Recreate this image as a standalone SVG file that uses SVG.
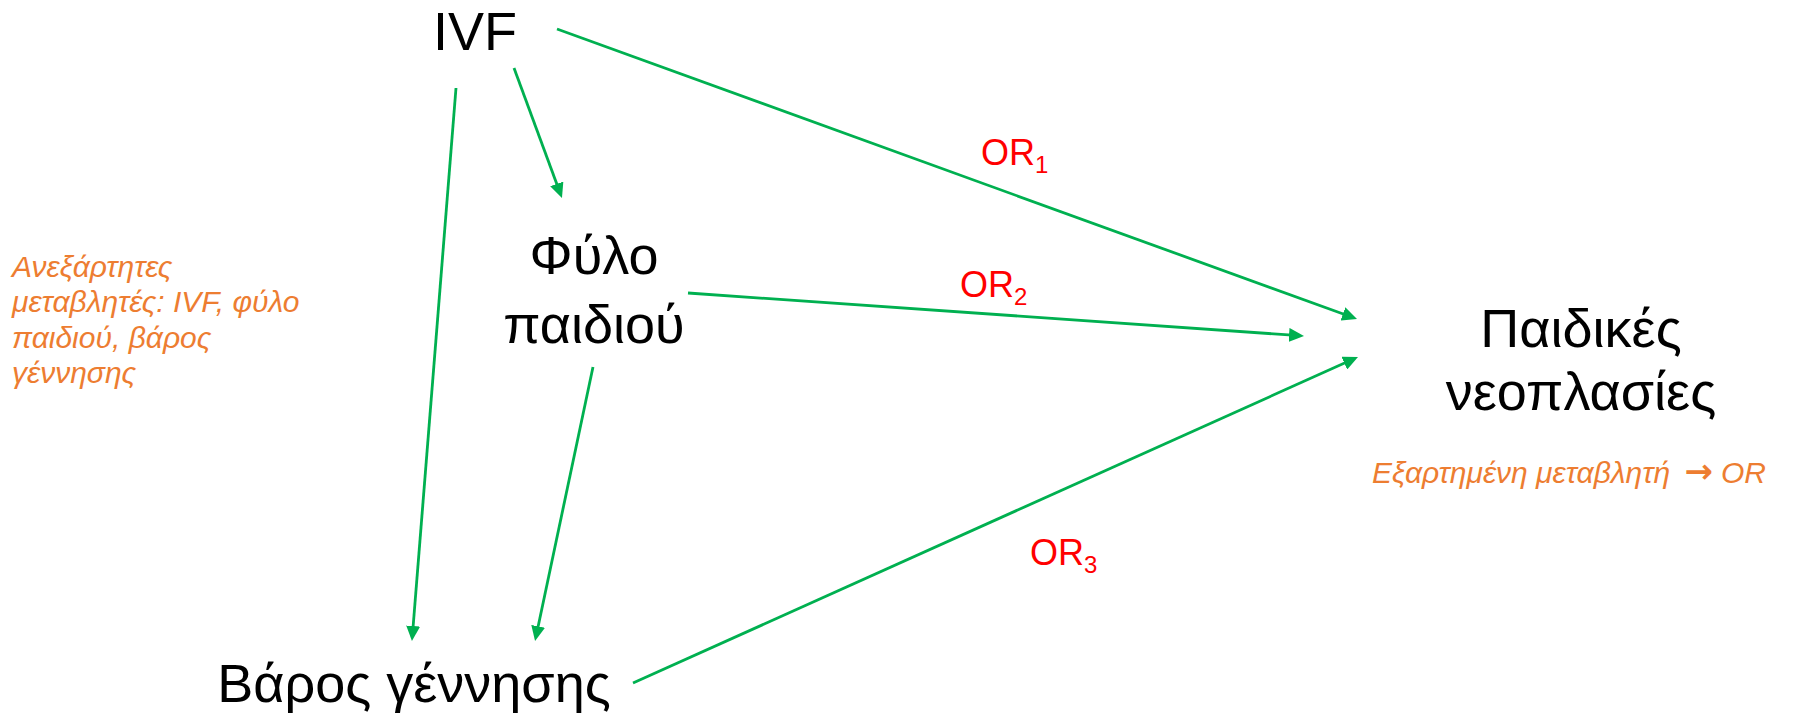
<svg xmlns="http://www.w3.org/2000/svg" width="1803" height="715" viewBox="0 0 1803 715">
  <style>
    .node { font-family: "Liberation Sans", Arial, sans-serif; font-size: 54px; fill: #000000; }
    .mid { text-anchor: middle; }
    .or { font-family: "Liberation Sans", Arial, sans-serif; font-size: 36px; fill: #FF0000; }
    .sub { font-size: 24px; }
    .note { font-family: "Liberation Sans", Arial, sans-serif; font-size: 30px; font-style: italic; fill: #ED7D31; }
    .arrowglyph { font-family: "DejaVu Sans", sans-serif; font-style: normal; font-weight: bold; font-size: 34px; }
    .edge { stroke: #00B050; stroke-width: 2.8; fill: none; marker-end: url(#head); }
  </style>
  <defs>
    <marker id="head" markerUnits="userSpaceOnUse" viewBox="0 0 15 14" markerWidth="15" markerHeight="14" refX="7" refY="7" orient="auto">
      <path d="M0,0 L15,7 L0,14 Z" fill="#00B050"/>
    </marker>
  </defs>
  <rect width="1803" height="715" fill="#FFFFFF"/>

  <!-- connectors -->
  <g id="connectors">
    <line class="edge" x1="557" y1="29" x2="1349.5" y2="316.3"/>
    <line class="edge" x1="514" y1="68" x2="559.2" y2="190.5"/>
    <line class="edge" x1="456" y1="88" x2="412.6" y2="633"/>
    <line class="edge" x1="593" y1="367" x2="536.7" y2="633.2"/>
    <line class="edge" x1="688" y1="293" x2="1296" y2="335.4"/>
    <line class="edge" x1="633" y1="683" x2="1350.7" y2="360.3"/>
  </g>

  <!-- nodes -->
  <g id="node-ivf">
    <text class="node" x="433" y="50">IVF</text>
  </g>
  <g id="node-sex">
    <text class="node mid" x="594" y="274">Φύλο</text>
    <text class="node mid" x="594" y="343">παιδιού</text>
  </g>
  <g id="node-weight">
    <text class="node mid" x="414" y="702">Βάρος γέννησης</text>
  </g>
  <g id="node-outcome">
    <text class="node mid" x="1581" y="347">Παιδικές</text>
    <text class="node mid" x="1581" y="410">νεοπλασίες</text>
  </g>

  <!-- odds ratio labels -->
  <g id="labels">
    <text class="or" x="981" y="165">OR<tspan class="sub" dy="8">1</tspan></text>
    <text class="or" x="960" y="297">OR<tspan class="sub" dy="8">2</tspan></text>
    <text class="or" x="1030" y="565">OR<tspan class="sub" dy="8">3</tspan></text>
  </g>

  <!-- variable notes -->
  <g id="note-independent">
    <text class="note" x="12" y="277">Ανεξάρτητες</text>
    <text class="note" x="12" y="312">μεταβλητές: IVF, φύλο</text>
    <text class="note" x="12" y="348">παιδιού, βάρος</text>
    <text class="note" x="12" y="383">γέννησης</text>
  </g>
  <g id="note-dependent">
    <text class="note" x="1372" y="483">Εξαρτημένη μεταβλητή <tspan class="arrowglyph" dx="6">→</tspan><tspan dx="8">OR</tspan></text>
  </g>
</svg>
